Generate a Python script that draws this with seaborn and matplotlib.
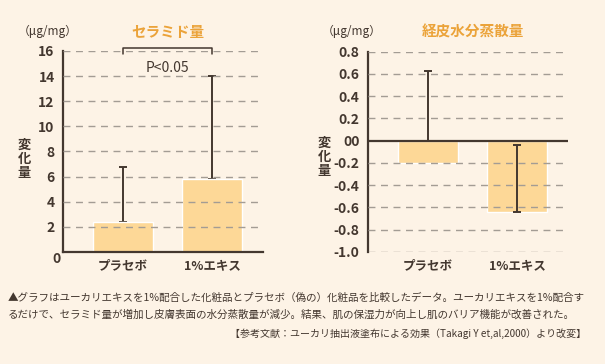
from matplotlib import pyplot as plt
import matplotlib.transforms as mtransforms
import seaborn as sns
import pandas as pd

# data
categories = ["プラセボ", "1%エキス"]
ceramide_mean = [2.4, 5.8]
ceramide_err = [4.4, 8.2]
tewl_mean = [-0.2, -0.64]
tewl_err = [0.83, 0.60]
ceramide_ticks = [0, 2, 4, 6, 8, 10, 12, 14, 16]
ceramide_tick_labels = ["0", "2", "4", "6", "8", "10", "12", "14", "16"]
tewl_ticks = [0.8, 0.6, 0.4, 0.2, 0.0, -0.2, -0.4, -0.6, -0.8, -1.0]
tewl_tick_labels = ["0.8", "0.6", "0.4", "0.2", "00", "-0.2", "-0.4", "-0.6", "-0.8", "-1.0"]

BG = "#fdf3e6"
BAR = "#fdd897"
ORANGE = "#eba33a"
DARK = "#43372f"
GRID = "#a39c94"
FONT = ["Noto Sans CJK JP", "DejaVu Sans"]

sns.set_style("white")
plt.rcParams["font.family"] = FONT
plt.rcParams["text.color"] = DARK


def style_axes(ax, bottom_spine=True):
    """Common look for both panels"""
    ax.set_facecolor("none")
    for s in ["top", "right"]:
        ax.spines[s].set_visible(False)
    ax.spines["bottom"].set_visible(bottom_spine)
    for s in ["left", "bottom"]:
        ax.spines[s].set_color(DARK)
        ax.spines[s].set_linewidth(1.6)
    ax.tick_params(length=0, pad=6, labelsize=10, labelcolor=DARK)
    ax.tick_params(axis="x", pad=5, labelsize=9)
    for lab in ax.get_xticklabels() + ax.get_yticklabels():
        lab.set_fontweight("bold")
    ax.set_xlabel("")
    ax.set_ylabel("")
    ax.set_xlim(-0.674, 1.573)


def draw_bars(ax, means, errs, front):
    df = pd.DataFrame({"cat": categories, "val": means})
    sns.barplot(data=df, x="cat", y="val", color=BAR, saturation=1,
                width=0.674, errorbar=None, ax=ax, zorder=2)
    for i, (m, e, f) in enumerate(zip(means, errs, front)):
        ax.errorbar(i, m, yerr=[[0], [e]], fmt="none", ecolor=DARK,
                    elinewidth=1.4, capsize=3, capthick=1.4,
                    zorder=4 if f else 1)


fig = plt.figure(figsize=(6.05, 3.64), dpi=100, facecolor=BG)

# left panel: ceramide
ax1 = fig.add_axes([0.1041, 0.3077, 0.3306, 0.5522])
draw_bars(ax1, ceramide_mean, ceramide_err, [False, False])
ax1.set_ylim(0, 16)
ax1.set_yticks(ceramide_ticks)
ax1.set_yticklabels(ceramide_tick_labels)
for t in ceramide_ticks[1:]:
    ax1.axhline(t, color=GRID, lw=1, ls=(0, (5, 4)), zorder=3)
style_axes(ax1)
# the "0" sits a little lower and to the right in the original
zero_lab = ax1.get_yticklabels()[0]
zero_lab.set_transform(zero_lab.get_transform()
                       + mtransforms.ScaledTranslation(4 / 72, -4 / 72, fig.dpi_scale_trans))
ax1.plot([0, 0, 1, 1], [15.8, 16.2, 16.2, 15.8], color=DARK, lw=1.1,
         clip_on=False, zorder=5)
ax1.text(0.5, 14.65, "P<0.05", ha="center", va="center", fontsize=10)
ax1.text(0.5, 17.5, "セラミド量", ha="center", va="center", fontsize=10.5,
         fontweight="bold", color=ORANGE)

# right panel: TEWL
ax2 = fig.add_axes([0.6083, 0.3077, 0.3306, 0.5503])
draw_bars(ax2, tewl_mean, tewl_err, [False, True])
ax2.set_ylim(-1.0, 0.8)
ax2.set_yticks(tewl_ticks)
ax2.set_yticklabels(tewl_tick_labels)
for t in tewl_ticks:
    if t != 0:
        ax2.axhline(t, color=GRID, lw=1, ls=(0, (5, 4)), zorder=3)
ax2.axhline(0, color=DARK, lw=1.6, zorder=5)
style_axes(ax2, bottom_spine=False)
ax2.text(0.5, 0.985, "経皮水分蒸散量", ha="center", va="center", fontsize=10.5,
         fontweight="bold", color=ORANGE)

# units and y labels
fig.text(48 / 605, 1 - 31 / 364, "（μg/mg）", ha="center", va="center", fontsize=8.5)
fig.text(352 / 605, 1 - 31 / 364, "（μg/mg）", ha="center", va="center", fontsize=8.5)
fig.text(24 / 605, 1 - 159 / 364, "変\n化\n量", ha="center", va="center",
         fontsize=9.5, fontweight="bold", linespacing=1.0)
fig.text(324 / 605, 1 - 157 / 364, "変\n化\n量", ha="center", va="center",
         fontsize=9.5, fontweight="bold", linespacing=1.0)

# footer
fig.text(8 / 605, 1 - 298 / 364,
         "▲グラフはユーカリエキスを1%配合した化粧品とプラセボ（偽の）化粧品を比較したデータ。ユーカリエキスを1%配合す",
         ha="left", va="center", fontsize=7.6)
fig.text(8 / 605, 1 - 314 / 364,
         "るだけで、セラミド量が増加し皮膚表面の水分蒸散量が減少。結果、肌の保湿力が向上し肌のバリア機能が改善された。",
         ha="left", va="center", fontsize=7.6)
fig.text(586 / 605, 1 - 334 / 364,
         "【参考文献：ユーカリ抽出液塗布による効果（Takagi Y et,al,2000）より改変】",
         ha="right", va="center", fontsize=7.2)

fig.savefig("out.png", dpi=100, facecolor=BG)
